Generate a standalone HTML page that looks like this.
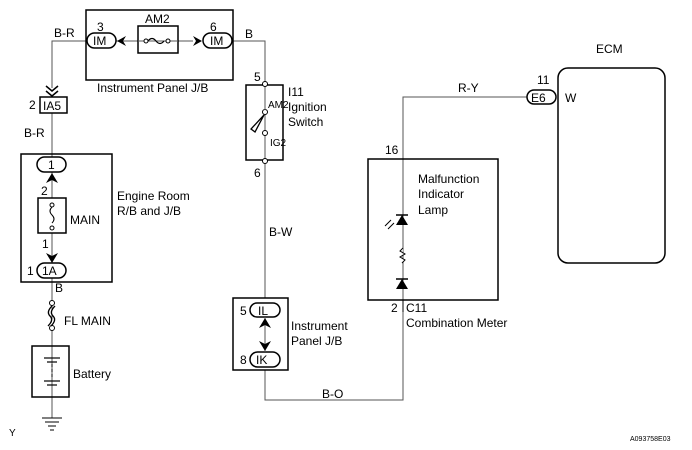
<!DOCTYPE html><html><head><style>body{margin:0;background:#fff}svg{display:block}text{font-family:"Liberation Sans",sans-serif;font-size:12px;fill:#000}</style></head><body>
<svg width="692" height="450" viewBox="0 0 692 450" xmlns="http://www.w3.org/2000/svg" fill="none" stroke="#000">
<g stroke-width="1" stroke="#555">
<polyline points="87,41 52,41 52,88"/>
<line x1="52" y1="113" x2="52" y2="157"/>
<line x1="116" y1="41" x2="193" y2="41"/>
<polyline points="232,41 265,41 265,298"/>
<line x1="52" y1="172" x2="52" y2="263"/>
<line x1="52" y1="278" x2="52" y2="418"/>
<polyline points="265,370 265,400 403,400 403,97 527,97"/>
</g>
<g stroke-width="1.5">
<rect x="86" y="10" width="147" height="70"/>
<rect x="138" y="26" width="40" height="27" fill="#fff"/>
<rect x="87" y="33" width="29" height="15" rx="7.5" fill="#fff"/>
<rect x="203" y="33" width="29" height="15" rx="7.5" fill="#fff"/>
<rect x="40" y="97" width="27" height="16" fill="#fff"/>
<rect x="21" y="154" width="91" height="128"/>
<rect x="37" y="157" width="29" height="15" rx="7.5" fill="#fff"/>
<rect x="38" y="198" width="28" height="35" fill="#fff"/>
<rect x="37" y="263" width="29" height="15" rx="7.5" fill="#fff"/>
<rect x="32" y="346" width="37" height="51"/>
<rect x="246" y="85" width="37" height="75"/>
<rect x="233" y="298" width="55" height="72" fill="#fff"/>
<rect x="250" y="303" width="30" height="14" rx="7" fill="#fff"/>
<rect x="250" y="352" width="30" height="15" rx="7.5" fill="#fff"/>
<rect x="368" y="159" width="130" height="141"/>
<rect x="558" y="68" width="107" height="195" rx="10"/>
<rect x="527" y="90" width="29" height="14" rx="7" fill="#fff"/>
</g>
<line x1="138" y1="41" x2="178" y2="41" stroke="#555"/>
<path d="M148,41 q4,-5 8,0 t8,0" stroke-width="1.2"/>
<circle cx="146" cy="41" r="2" fill="#fff"/><circle cx="168" cy="41" r="2" fill="#fff"/>
<path d="M117,41 l9,-5 l-3,5 l3,5z" fill="#000" stroke="none"/>
<path d="M202,41 l-9,-5 l3,5 l-3,5z" fill="#000" stroke="none"/>
<path d="M46,86 l6,5 6,-5 M46,91 l6,5 6,-5" stroke-width="1.5"/>
<path d="M52,173 l-6,10 l6,-3 l6,3z" fill="#000" stroke="none"/>
<path d="M52,263 l-6,-10 l6,3 l6,-3z" fill="#000" stroke="none"/>
<line x1="265" y1="317" x2="265" y2="352" stroke="#555"/>
<path d="M265,318 l-6,10 l6,-3 l6,3z" fill="#000" stroke="none"/>
<path d="M265,351 l-6,-10 l6,3 l6,-3z" fill="#000" stroke="none"/>
<circle cx="52" cy="205" r="2" fill="#fff"/><circle cx="52" cy="228" r="2" fill="#fff"/>
<path d="M52,207 q-4,4 0,8 q4,4 0,8" fill="#fff"/>
<circle cx="52" cy="303" r="2.5" fill="#fff"/><circle cx="52" cy="328" r="2.5" fill="#fff"/>
<path d="M52,306 q-6,6 -2,10 q4,4 -2,10 M55,306 q-6,6 -2,10 q4,4 -2,10" stroke-width="1.3" fill="#fff"/>
<g stroke-width="1.2"><line x1="44" y1="358" x2="60" y2="358"/><line x1="47" y1="362" x2="57" y2="362"/><line x1="44" y1="381" x2="60" y2="381"/><line x1="47" y1="385" x2="57" y2="385"/></g>
<line x1="52" y1="364" x2="52" y2="379" stroke-dasharray="3,2"/>
<line x1="42" y1="418" x2="62" y2="418"/><line x1="45" y1="422" x2="59" y2="422"/><line x1="48" y1="426" x2="56" y2="426"/><line x1="50" y1="430" x2="54" y2="430"/>
<circle cx="265" cy="84" r="2.5" fill="#fff"/><circle cx="265" cy="161" r="2.5" fill="#fff"/>
<circle cx="265" cy="112" r="2.5" fill="#fff"/><circle cx="265" cy="133" r="2.5" fill="#fff"/>
<line x1="265" y1="87" x2="265" y2="110" stroke="#555"/>
<path d="M264,115 l-13,14 l4,3z" fill="#fff" stroke-width="1.3"/>
<path d="M396,225 h12 l-6,-10z" fill="#000" stroke="none"/><line x1="396" y1="215" x2="408" y2="215" stroke-width="1.5"/>
<path d="M385,226 l6,-6 M388,229 l6,-6" stroke-width="1"/>
<path d="M403,248 l-3,3 5,3 -5,3 5,3 -3,3" fill="#fff" stroke-width="1"/>
<path d="M396,289 h12 l-6,-10z" fill="#000" stroke="none"/><line x1="396" y1="279" x2="408" y2="279" stroke-width="1.5"/>
<line x1="403" y1="300" x2="403" y2="312" stroke-width="1"/>
<g stroke="none">
<text x="54" y="37">B-R</text><text x="97" y="31">3</text><text x="93" y="45">IM</text>
<text x="145" y="23">AM2</text><text x="210" y="31">6</text><text x="210" y="45">IM</text><text x="245" y="38">B</text>
<text x="97" y="92">Instrument Panel J/B</text>
<text x="29" y="109">2</text><text x="43" y="110">IA5</text><text x="24" y="137">B-R</text>
<text x="48" y="169">1</text><text x="41" y="195">2</text><text x="70" y="224">MAIN</text>
<text x="42" y="248">1</text><text x="27" y="275">1</text><text x="42" y="275">1A</text>
<text x="117" y="200">Engine Room</text><text x="117" y="215">R/B and J/B</text>
<text x="55" y="292">B</text><text x="64" y="325">FL MAIN</text><text x="73" y="378">Battery</text>
<text x="9" y="436" style="font-size:10px">Y</text>
<text x="254" y="81">5</text><text x="288" y="96">I11</text><text x="288" y="111">Ignition</text><text x="288" y="126">Switch</text>
<text x="268" y="108" style="font-size:10px">AM2</text><text x="270" y="146" style="font-size:10px">IG2</text>
<text x="254" y="177">6</text><text x="269" y="236">B-W</text>
<text x="240" y="315">5</text><text x="258" y="315">IL</text><text x="240" y="364">8</text><text x="256" y="364">IK</text>
<text x="291" y="330">Instrument</text><text x="291" y="345">Panel J/B</text>
<text x="322" y="398">B-O</text>
<text x="385" y="154">16</text><text x="458" y="92">R-Y</text><text x="537" y="84">11</text>
<text x="531" y="102">E6</text><text x="565" y="102">W</text><text x="596" y="53">ECM</text>
<text x="418" y="183">Malfunction</text><text x="418" y="198">Indicator</text><text x="418" y="214">Lamp</text>
<text x="391" y="312">2</text><text x="406" y="312">C11</text><text x="406" y="327">Combination Meter</text>
<text x="630" y="441" style="font-size:7px">A093758E03</text>
</g>
</svg></body></html>
